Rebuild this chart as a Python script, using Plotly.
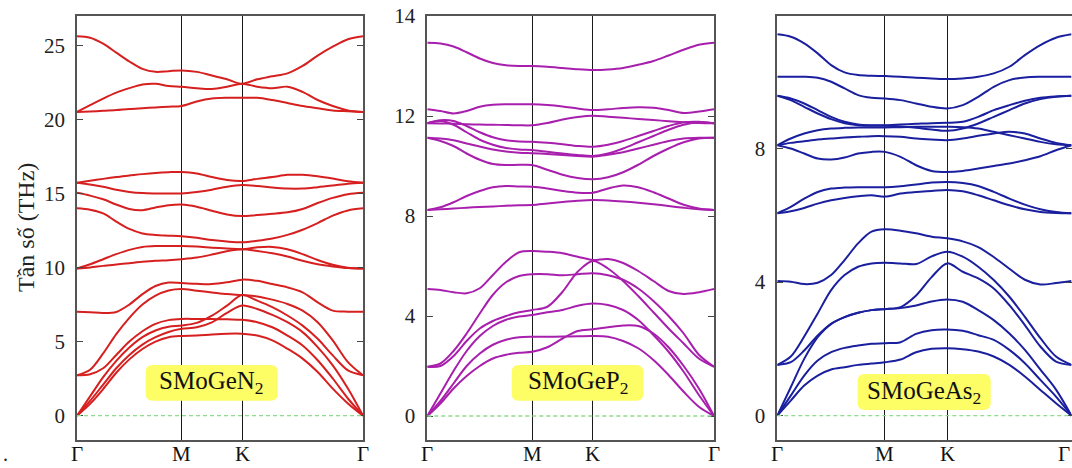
import plotly.graph_objects as go

# ---------------- data ----------------
# k-path positions (Γ-M, M-K, K-Γ), in units of |ΓM|
k_path = [0.0, 0.125, 0.25, 0.375, 0.5, 0.625, 0.75, 0.875, 1.0,
          1.144, 1.289, 1.433, 1.577,
          1.722, 1.866, 2.010, 2.155, 2.299, 2.443, 2.588, 2.732]
k_label_pos = [0.0, 1.0, 1.577, 2.732]
k_labels = ["Γ", "M", "K", "Γ"]

materials = ["SMoGeN<sub>2</sub>", "SMoGeP<sub>2</sub>", "SMoGeAs<sub>2</sub>"]

bands_n2 = [
    [25.6, 25.5, 25.1, 24.5, 23.9, 23.4, 23.2, 23.25, 23.3, 23.2, 22.95, 22.7, 22.4, 22.7, 22.9, 23.1, 23.6, 24.3, 24.9, 25.4, 25.6],
    [20.5, 20.95, 21.4, 21.8, 22.1, 22.35, 22.4, 22.25, 22.2, 22.1, 22.05, 22.2, 22.4, 22.2, 22.1, 22.2, 21.85, 21.3, 20.9, 20.6, 20.5],
    [20.5, 20.53, 20.57, 20.62, 20.7, 20.75, 20.8, 20.85, 20.9, 21.2, 21.4, 21.45, 21.45, 21.45, 21.3, 21.1, 20.9, 20.75, 20.6, 20.55, 20.5],
    [15.72, 15.85, 15.98, 16.1, 16.2, 16.3, 16.38, 16.43, 16.45, 16.35, 16.1, 15.9, 15.83, 15.98, 16.1, 16.25, 16.25, 16.15, 16.0, 15.82, 15.72],
    [15.72, 15.6, 15.45, 15.25, 15.1, 15.02, 15.0, 15.0, 15.0, 15.1, 15.25, 15.45, 15.56, 15.5, 15.4, 15.33, 15.33, 15.42, 15.53, 15.65, 15.72],
    [15.04, 14.85, 14.6, 14.25, 13.95, 13.87, 14.05, 14.2, 14.25, 14.1, 13.83, 13.58, 13.47, 13.54, 13.62, 13.72, 13.95, 14.35, 14.7, 14.95, 15.04],
    [13.99, 13.9, 13.65, 13.1, 12.6, 12.3, 12.2, 12.15, 12.1, 12.0, 11.85, 11.75, 11.7, 11.8, 11.95, 12.2, 12.55, 13.0, 13.5, 13.85, 13.99],
    [9.93, 10.22, 10.56, 10.9, 11.19, 11.39, 11.45, 11.45, 11.45, 11.41, 11.34, 11.28, 11.23, 11.36, 11.39, 11.23, 10.9, 10.51, 10.18, 9.98, 9.93],
    [9.93, 10.0, 10.11, 10.2, 10.29, 10.38, 10.45, 10.49, 10.56, 10.67, 10.87, 11.1, 11.23, 11.12, 10.96, 10.74, 10.45, 10.22, 10.07, 9.96, 9.93],
    [7.02, 6.98, 6.93, 7.0, 7.5, 8.2, 8.75, 8.98, 8.95, 8.9, 8.88, 9.0, 9.18, 9.1, 8.88, 8.66, 8.32, 7.65, 7.09, 7.02, 7.02],
    [2.73, 3.1, 4.2, 5.5, 6.6, 7.5, 8.1, 8.45, 8.55, 8.43, 8.32, 8.21, 8.14, 8.05, 7.83, 7.54, 7.09, 6.31, 5.08, 3.62, 2.73],
    [2.73, 2.8, 3.2, 4.1, 5.0, 5.7, 6.2, 6.45, 6.53, 6.53, 6.53, 6.5, 6.47, 6.31, 5.97, 5.41, 4.74, 3.74, 2.51, 1.16, 0.0],
    [0.0, 1.3, 2.6, 3.7, 4.6, 5.3, 5.75, 6.0, 6.08, 6.26, 6.75, 7.43, 8.14, 7.76, 7.32, 6.76, 6.08, 5.19, 4.07, 3.06, 2.73],
    [0.0, 1.0, 2.1, 3.2, 4.1, 4.8, 5.3, 5.65, 5.86, 5.97, 6.3, 6.94, 7.43, 7.2, 6.8, 6.31, 5.64, 4.63, 3.4, 1.83, 0.0],
    [0.0, 0.8, 1.8, 2.9, 3.8, 4.5, 5.0, 5.3, 5.38, 5.41, 5.48, 5.53, 5.53, 5.41, 5.08, 4.52, 3.85, 2.95, 1.83, 0.83, 0.0],
]

bands_p2 = [
    [14.93, 14.9, 14.78, 14.55, 14.3, 14.12, 14.03, 14.0, 14.0, 13.97, 13.92, 13.87, 13.84, 13.86, 13.92, 14.05, 14.2, 14.42, 14.65, 14.85, 14.93],
    [12.27, 12.2, 12.1, 12.2, 12.37, 12.45, 12.47, 12.47, 12.47, 12.44, 12.38, 12.3, 12.24, 12.27, 12.32, 12.35, 12.33, 12.24, 12.12, 12.18, 12.27],
    [11.71, 11.7, 11.69, 11.67, 11.66, 11.65, 11.64, 11.63, 11.63, 11.72, 11.86, 11.96, 12.01, 11.97, 11.93, 11.88, 11.84, 11.79, 11.75, 11.72, 11.71],
    [11.71, 11.83, 11.8, 11.6, 11.35, 11.15, 11.03, 10.98, 10.97, 10.93, 10.87, 10.8, 10.77, 10.85, 11.0, 11.2, 11.4, 11.6, 11.75, 11.77, 11.71],
    [11.71, 11.8, 11.65, 11.35, 11.05, 10.85, 10.72, 10.66, 10.64, 10.57, 10.5, 10.44, 10.4, 10.5, 10.7, 10.95, 11.2, 11.45, 11.65, 11.75, 11.71],
    [11.13, 11.1, 11.03, 10.9, 10.78, 10.66, 10.58, 10.53, 10.51, 10.48, 10.44, 10.4, 10.37, 10.45, 10.55, 10.7, 10.85, 11.0, 11.1, 11.13, 11.13],
    [11.13, 11.0, 10.8, 10.5, 10.25, 10.08, 10.04, 10.05, 10.04, 9.85, 9.65, 9.52, 9.47, 9.55, 9.75, 10.05, 10.4, 10.7, 10.95, 11.1, 11.13],
    [8.24, 8.35, 8.55, 8.8, 9.0, 9.15, 9.2, 9.18, 9.17, 9.1, 9.0, 8.93, 8.93, 9.1, 9.22, 9.15, 8.95, 8.7, 8.45, 8.3, 8.24],
    [8.24, 8.27, 8.3, 8.33, 8.36, 8.38, 8.41, 8.43, 8.44, 8.5, 8.56, 8.61, 8.64, 8.62, 8.58, 8.53, 8.47, 8.4, 8.33, 8.27, 8.24],
    [5.08, 5.04, 4.95, 4.91, 5.11, 5.64, 6.17, 6.55, 6.6, 6.57, 6.51, 6.37, 6.24, 6.28, 6.12, 5.8, 5.4, 5.0, 4.88, 4.95, 5.08],
    [1.97, 2.1, 2.6, 3.3, 4.1, 4.85, 5.35, 5.6, 5.67, 5.67, 5.63, 5.67, 5.71, 5.63, 5.45, 5.1, 4.6, 4.0, 3.3, 2.45, 1.97],
    [1.97, 2.0, 2.4, 3.0, 3.5, 3.8, 4.0, 4.15, 4.24, 4.37, 4.97, 5.77, 6.2, 5.9, 5.4, 4.8, 4.15, 3.5, 2.9, 2.3, 1.97],
    [0.0, 0.9, 1.8, 2.6, 3.2, 3.6, 3.85, 3.98, 4.04, 4.15, 4.24, 4.41, 4.5, 4.44, 4.24, 3.84, 3.24, 2.57, 1.77, 0.84, 0.0],
    [0.0, 0.6, 1.3, 2.0, 2.5, 2.85, 3.05, 3.15, 3.17, 3.17, 3.18, 3.19, 3.2, 3.17, 3.0, 2.71, 2.24, 1.64, 0.97, 0.37, 0.0],
    [0.0, 0.5, 1.1, 1.6, 2.0, 2.3, 2.45, 2.53, 2.57, 2.75, 3.1, 3.4, 3.47, 3.55, 3.62, 3.6, 3.3, 2.75, 2.0, 1.1, 0.0],
]

bands_as2 = [
    [11.42, 11.35, 11.15, 10.85, 10.5, 10.28, 10.2, 10.18, 10.17, 10.15, 10.12, 10.1, 10.08, 10.1, 10.15, 10.25, 10.45, 10.8, 11.1, 11.32, 11.42],
    [10.15, 10.15, 10.15, 10.12, 10.0, 9.8, 9.6, 9.52, 9.5, 9.45, 9.35, 9.25, 9.2, 9.3, 9.55, 9.85, 10.05, 10.13, 10.15, 10.15, 10.15],
    [9.58, 9.5, 9.35, 9.15, 8.95, 8.8, 8.72, 8.7, 8.7, 8.72, 8.74, 8.76, 8.77, 8.8, 8.95, 9.15, 9.3, 9.43, 9.52, 9.56, 9.58],
    [9.58, 9.45, 9.25, 9.05, 8.88, 8.76, 8.7, 8.68, 8.68, 8.66, 8.62, 8.57, 8.53, 8.6, 8.75, 8.95, 9.15, 9.35, 9.48, 9.55, 9.58],
    [8.1, 8.3, 8.45, 8.55, 8.6, 8.62, 8.63, 8.63, 8.63, 8.64, 8.65, 8.65, 8.65, 8.64, 8.6, 8.5, 8.4, 8.3, 8.2, 8.13, 8.1],
    [8.1, 8.17, 8.22, 8.27, 8.3, 8.33, 8.35, 8.37, 8.37, 8.35, 8.3, 8.27, 8.25, 8.3, 8.38, 8.45, 8.5, 8.45, 8.3, 8.17, 8.1],
    [8.1, 8.0, 7.85, 7.7, 7.67, 7.73, 7.85, 7.9, 7.9, 7.75, 7.5, 7.33, 7.3, 7.33, 7.4, 7.48, 7.55, 7.65, 7.77, 7.95, 8.1],
    [6.06, 6.25, 6.5, 6.7, 6.8, 6.83, 6.84, 6.84, 6.84, 6.87, 6.92, 6.98, 7.0, 6.97, 6.88, 6.7, 6.5, 6.32, 6.18, 6.1, 6.06],
    [6.06, 6.12, 6.22, 6.35, 6.45, 6.52, 6.57, 6.6, 6.56, 6.65, 6.7, 6.73, 6.76, 6.72, 6.6, 6.45, 6.3, 6.18, 6.1, 6.07, 6.06],
    [4.03, 4.01, 3.94, 3.98, 4.21, 4.66, 5.16, 5.51, 5.58, 5.54, 5.46, 5.36, 5.31, 5.22, 5.05, 4.75, 4.4, 4.07, 3.93, 3.97, 4.03],
    [1.52, 1.77, 2.37, 3.06, 3.76, 4.21, 4.46, 4.56, 4.58, 4.56, 4.54, 4.77, 4.91, 4.76, 4.46, 4.06, 3.56, 2.96, 2.32, 1.77, 1.52],
    [1.52, 1.6, 1.95, 2.4, 2.75, 2.95, 3.08, 3.16, 3.19, 3.25, 3.6, 4.15, 4.56, 4.31, 4.11, 3.81, 3.31, 2.71, 2.07, 1.62, 1.52],
    [0.0, 0.85, 1.7, 2.35, 2.75, 2.95, 3.08, 3.16, 3.19, 3.22, 3.3, 3.42, 3.48, 3.41, 3.16, 2.86, 2.46, 1.97, 1.38, 0.78, 0.0],
    [0.0, 0.6, 1.2, 1.65, 1.9, 2.03, 2.1, 2.15, 2.17, 2.2, 2.45, 2.56, 2.58, 2.54, 2.41, 2.27, 1.97, 1.57, 1.07, 0.57, 0.0],
    [0.0, 0.45, 0.9, 1.2, 1.38, 1.45, 1.52, 1.56, 1.6, 1.68, 1.9, 2.0, 2.02, 1.99, 1.92, 1.77, 1.52, 1.17, 0.77, 0.37, 0.0],
]

ytick_vals_n2 = [0, 5, 10, 15, 20, 25]
ytick_text_n2 = ["0", "5", "10", "15", "20", "25"]
ytick_vals_p2 = [0, 4, 8, 12, 16]
ytick_text_p2 = ["0", "4", "8", "12", "14"]
ytick_vals_as2 = [0, 4, 8, 12]
ytick_text_as2 = ["0", "4", "8", "12"]

y_title = "Tần số (THz)"

# ---------------- layout / style ----------------
W, H = 1072, 468
SERIF = "'Liberation Serif', 'Times New Roman', 'DejaVu Serif', serif"


def fx(p):
    return p / W


def fy(p):
    return 1 - p / H


panels = [
    dict(bands=bands_n2, color="#d61f1f", xpx=(77, 363), yrange=(-1.64, 26.97),
         tv=ytick_vals_n2, tt=ytick_text_n2, box=(145.7, 365, 277.7, 400.7)),
    dict(bands=bands_p2, color="#a81fae", xpx=(427.3, 714), yrange=(-0.96, 16.0),
         tv=ytick_vals_p2, tt=ytick_text_p2, box=(511.7, 365, 643.3, 400.7)),
    dict(bands=bands_as2, color="#1a1f9e", xpx=(777.3, 1071.5), yrange=(-0.73, 11.97),
         tv=ytick_vals_as2, tt=ytick_text_as2, box=(857.7, 374, 990.7, 410)),
]

fig = go.Figure()
layout = dict(
    width=W, height=H, margin=dict(l=0, r=0, t=0, b=0, pad=0, autoexpand=False),
    paper_bgcolor="white", plot_bgcolor="white", showlegend=False,
    font=dict(family=SERIF),
    shapes=[], annotations=[],
)

ydom = [fy(440), fy(16)]

for i, p in enumerate(panels):
    n = "" if i == 0 else str(i + 1)
    xa, ya = "x" + n, "y" + n
    for b in p["bands"]:
        fig.add_trace(go.Scatter(
            x=k_path, y=b, mode="lines", xaxis=xa, yaxis=ya,
            line=dict(color=p["color"], width=2, shape="spline", smoothing=0.9),
            hoverinfo="skip"))
    layout["xaxis" + n] = dict(
        domain=[fx(p["xpx"][0]), fx(p["xpx"][1])], anchor=ya,
        range=[k_label_pos[0], k_label_pos[-1]], automargin=False,
        tickmode="array", tickvals=k_label_pos, ticktext=k_labels,
        showticklabels=False,
        ticks="", showgrid=True, gridcolor="#1a1a1a", gridwidth=1.3,
        showline=True, mirror=True, linecolor="#555555", linewidth=1.6,
        zeroline=False,
    )
    layout["yaxis" + n] = dict(
        domain=ydom, anchor=xa, range=list(p["yrange"]), automargin=False,
        tickmode="array", tickvals=p["tv"], ticktext=p["tt"],
        ticks="inside", ticklen=6, tickwidth=1.2, tickcolor="#444",
        showgrid=False, zeroline=False,
        showline=True, mirror="ticks", linecolor="#555555", linewidth=1.6,
        tickfont=dict(family=SERIF, size=21, color="#222"),
        ticklabelstandoff=6,
    )
    # k-point labels below each panel (annotations placed at the tick positions)
    for j, (kx, kt) in enumerate(zip(k_label_pos, k_labels)):
        last_edge = (i == len(panels) - 1 and j == len(k_labels) - 1)
        layout["annotations"].append(dict(
            x=kx, xref=xa, y=0, yref="paper", text=kt, showarrow=False,
            xanchor="right" if last_edge else "center", yanchor="bottom",
            font=dict(family=SERIF, size=21, color="#111")))
    # dashed green zero line
    layout["shapes"].append(dict(
        type="line", xref=xa, yref=ya, x0=k_label_pos[0], x1=k_label_pos[-1], y0=0, y1=0,
        line=dict(color="#8edc8e", width=1.3, dash="4px,3px"), layer="above"))
    # rounded yellow label box
    x0, y0, x1, y1 = p["box"]
    r = 7
    path = (f"M {fx(x0 + r)},{fy(y0)} L {fx(x1 - r)},{fy(y0)} Q {fx(x1)},{fy(y0)} {fx(x1)},{fy(y0 + r)} "
            f"L {fx(x1)},{fy(y1 - r)} Q {fx(x1)},{fy(y1)} {fx(x1 - r)},{fy(y1)} "
            f"L {fx(x0 + r)},{fy(y1)} Q {fx(x0)},{fy(y1)} {fx(x0)},{fy(y1 - r)} "
            f"L {fx(x0)},{fy(y0 + r)} Q {fx(x0)},{fy(y0)} {fx(x0 + r)},{fy(y0)} Z")
    layout["shapes"].append(dict(type="path", xref="paper", yref="paper", path=path,
                                 fillcolor="#fdfd66", line=dict(width=0), layer="above"))
    layout["annotations"].append(dict(
        x=fx((x0 + x1) / 2), y=fy((y0 + y1) / 2), xref="paper", yref="paper",
        text=materials[i], showarrow=False, xanchor="center", yanchor="middle",
        font=dict(family=SERIF, size=25, color="#111")))

layout["annotations"].append(dict(
    x=fx(26), y=fy(228), xref="paper", yref="paper", text=y_title, textangle=-90,
    showarrow=False, xanchor="center", yanchor="middle",
    font=dict(family=SERIF, size=24, color="#222")))
layout["annotations"].append(dict(
    x=fx(5), y=fy(454), xref="paper", yref="paper", text=".", showarrow=False,
    xanchor="center", yanchor="middle", font=dict(family=SERIF, size=20, color="#222")))

fig.update_layout(**layout)
fig.write_html("out.html")
